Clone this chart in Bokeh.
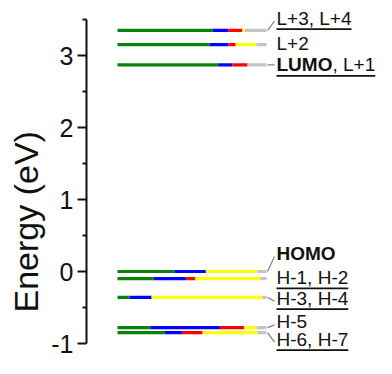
from bokeh.plotting import figure
from bokeh.models import Range1d, FixedTicker, ColumnDataSource, Title
from bokeh.core.properties import value
from bokeh.embed import file_html
from bokeh.resources import INLINE

# ---------------- data ----------------
levels = ["L+3, L+4", "L+2", "LUMO, L+1", "HOMO", "H-1, H-2", "H-3, H-4", "H-5", "H-6, H-7"]
label_bold = ["", "", "LUMO", "HOMO", "", "", "", ""]
label_rest = ["L+3, L+4", "L+2", ", L+1", "", "H-1, H-2", "H-3, H-4", "H-5", "H-6, H-7"]
underlined = [True, False, True, False, True, True, False, True]
has_leader = [True, False, True, True, False, True, True, True]
energy = [3.35, 3.15, 2.87, 0.0, -0.10, -0.36, -0.78, -0.85]
label_y = [3.52, 3.17, 2.87, 0.25, -0.08, -0.37, -0.70, -0.94]

green = [64.0, 61.8, 67.6, 38.2, 24.3, 8.1, 22.0, 31.5]
blue = [10.3, 12.6, 9.4, 21.1, 21.6, 14.8, 46.7, 11.7]
red = [9.4, 4.9, 10.3, 0.0, 6.3, 0.0, 16.2, 13.9]
yellow = [1.8, 13.9, 0.0, 34.6, 43.6, 74.2, 8.5, 36.9]
gray = [14.5, 6.8, 12.7, 6.1, 4.2, 2.9, 6.6, 6.0]

y_ticks = [-1, 0, 1, 2, 3]
y_minor = [-0.5, 0.5, 1.5, 2.5, 3.5]
y_label = "Energy (eV)"

W, H = 376, 358
LEFT = 86
x_start, x_end = -20.8, 173.8
y_start, y_end = -1.208, 3.764
FONT = "Liberation Sans"
LBL_PX = 19

px_x = (W - LEFT) / (x_end - x_start)
px_y = H / (y_end - y_start)

REG = {'L': 556, '+': 584, ',': 278, ' ': 278, 'H': 722, '-': 333,
       '1': 556, '2': 556, '3': 556, '4': 556, '5': 556, '6': 556, '7': 556}
BLD = {'L': 611, 'U': 722, 'M': 833, 'O': 778, 'H': 722}


def width_px(s, table):
    return sum(table.get(c, 556) for c in s) / 1000.0 * LBL_PX


p = figure(width=W, height=H,
           x_range=Range1d(x_start, x_end), y_range=Range1d(y_start, y_end),
           x_axis_location=None, toolbar_location=None, output_backend="svg",
           min_border_left=LEFT, min_border_right=0, min_border_top=0, min_border_bottom=0)
p.outline_line_color = None
p.grid.visible = False
p.background_fill_color = "white"
p.border_fill_color = "white"

cols = [green, blue, red, yellow, gray]
colors = ["#0a820a", "#0000ff", "#ff0000", "#ffff00", "#c4c4c4"]
for i, e in enumerate(energy):
    start = 0.0
    for comp, c in zip(cols, colors):
        v = comp[i]
        if v > 0:
            p.segment(x0=[start], y0=[e], x1=[start + v], y1=[e],
                      line_color=c, line_width=3.2, line_cap="butt")
        start += v

lbl_x = 106.7
bold_src = dict(x=[], y=[], t=[])
reg_src = dict(x=[], y=[], t=[])
ul = dict(x0=[], x1=[], y=[])
ld = dict(x0=[], y0=[], x1=[], y1=[])
for i in range(len(levels)):
    x = lbl_x
    wb = 0.0
    if label_bold[i]:
        bold_src['x'].append(x)
        bold_src['y'].append(label_y[i])
        bold_src['t'].append(label_bold[i])
        wb = width_px(label_bold[i], BLD) / px_x
    wr = 0.0
    if label_rest[i]:
        reg_src['x'].append(x + wb)
        reg_src['y'].append(label_y[i])
        reg_src['t'].append(label_rest[i])
        wr = width_px(label_rest[i], REG) / px_x
    if underlined[i]:
        ul['x0'].append(x)
        ul['x1'].append(x + wb + wr)
        ul['y'].append(label_y[i] - 11.0 / px_y)
    if has_leader[i]:
        ld['x0'].append(100.0 + 1.0 / px_x)
        ld['y0'].append(energy[i])
        ld['x1'].append(lbl_x - 2.0 / px_x)
        ld['y1'].append(label_y[i] - 3.0 / px_y if label_y[i] != energy[i] else energy[i])

p.segment(x0='x0', y0='y0', x1='x1', y1='y1', source=ColumnDataSource(ld),
          line_color="#808080", line_width=1.2)
p.segment(x0='x0', y0='y', x1='x1', y1='y', source=ColumnDataSource(ul),
          line_color="#111111", line_width=1.8)
p.text(x='x', y='y', text='t', source=ColumnDataSource(reg_src),
       text_font=value(FONT), text_font_size=f"{LBL_PX}px", text_color="#111111",
       text_baseline="middle", text_align="left")
p.text(x='x', y='y', text='t', source=ColumnDataSource(bold_src),
       text_font=value(FONT), text_font_size=f"{LBL_PX}px", text_font_style="bold",
       text_color="#111111", text_baseline="middle", text_align="left")

ax = p.yaxis[0]
ax.bounds = (min(y_ticks), max(y_minor))
ax.ticker = FixedTicker(ticks=y_ticks, minor_ticks=y_minor)
ax.major_label_overrides = {t: str(t) for t in y_ticks}
ax.major_label_text_font = FONT
ax.major_label_text_font_size = "25px"
ax.major_label_text_color = "#111111"
ax.major_label_standoff = 4
ax.axis_line_width = 2
ax.axis_line_color = "#111111"
ax.major_tick_line_width = 2
ax.major_tick_line_color = "#111111"
ax.major_tick_out = 9
ax.major_tick_in = 0
ax.minor_tick_line_width = 2
ax.minor_tick_line_color = "#111111"
ax.minor_tick_out = 4
ax.minor_tick_in = 0

# axis title as a vertical side title, shifted down like the original
ttl = Title(text=y_label, align="left", offset=46, standoff=8,
            text_font=FONT, text_font_size="34px", text_font_style="normal",
            text_color="#111111")
p.add_layout(ttl, "left")

open("out.html", "w").write(file_html(p, INLINE))
